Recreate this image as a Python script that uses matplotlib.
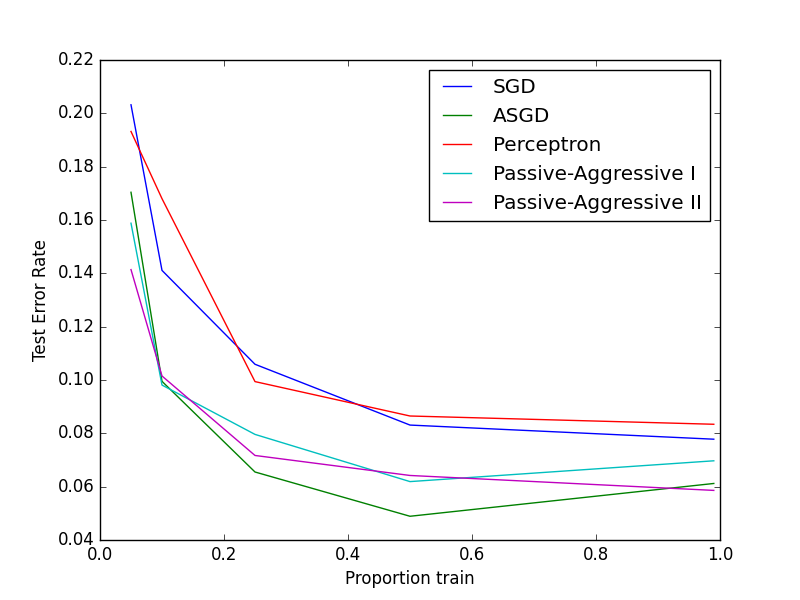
import matplotlib as mpl
mpl.use('Agg')
import matplotlib.pyplot as plt

# proportion of the data used for training
proportions = [0.05, 0.10, 0.25, 0.50, 0.99]

# test error rates
sgd = [0.2032, 0.1411, 0.1059, 0.0831, 0.0778]
asgd = [0.1704, 0.0995, 0.0655, 0.0489, 0.0612]
perceptron = [0.1932, 0.1680, 0.0994, 0.0865, 0.0834]
pa1 = [0.1588, 0.0981, 0.0796, 0.0619, 0.0697]
pa2 = [0.1414, 0.1015, 0.0717, 0.0642, 0.0586]

names = ["SGD", "ASGD", "Perceptron",
         "Passive-Aggressive I", "Passive-Aggressive II"]
series = [sgd, asgd, perceptron, pa1, pa2]

plt.style.use('classic')
fig = plt.figure(figsize=(8, 6))
for name, rates in zip(names, series):
    plt.plot(proportions, rates, label=name)

plt.legend(loc="upper right")
plt.xlabel("Proportion train")
plt.ylabel("Test Error Rate")
plt.ylim(0.04, 0.22)
plt.xlim(0.0, 1.0)

plt.savefig("out.png", dpi=100, facecolor='white')
